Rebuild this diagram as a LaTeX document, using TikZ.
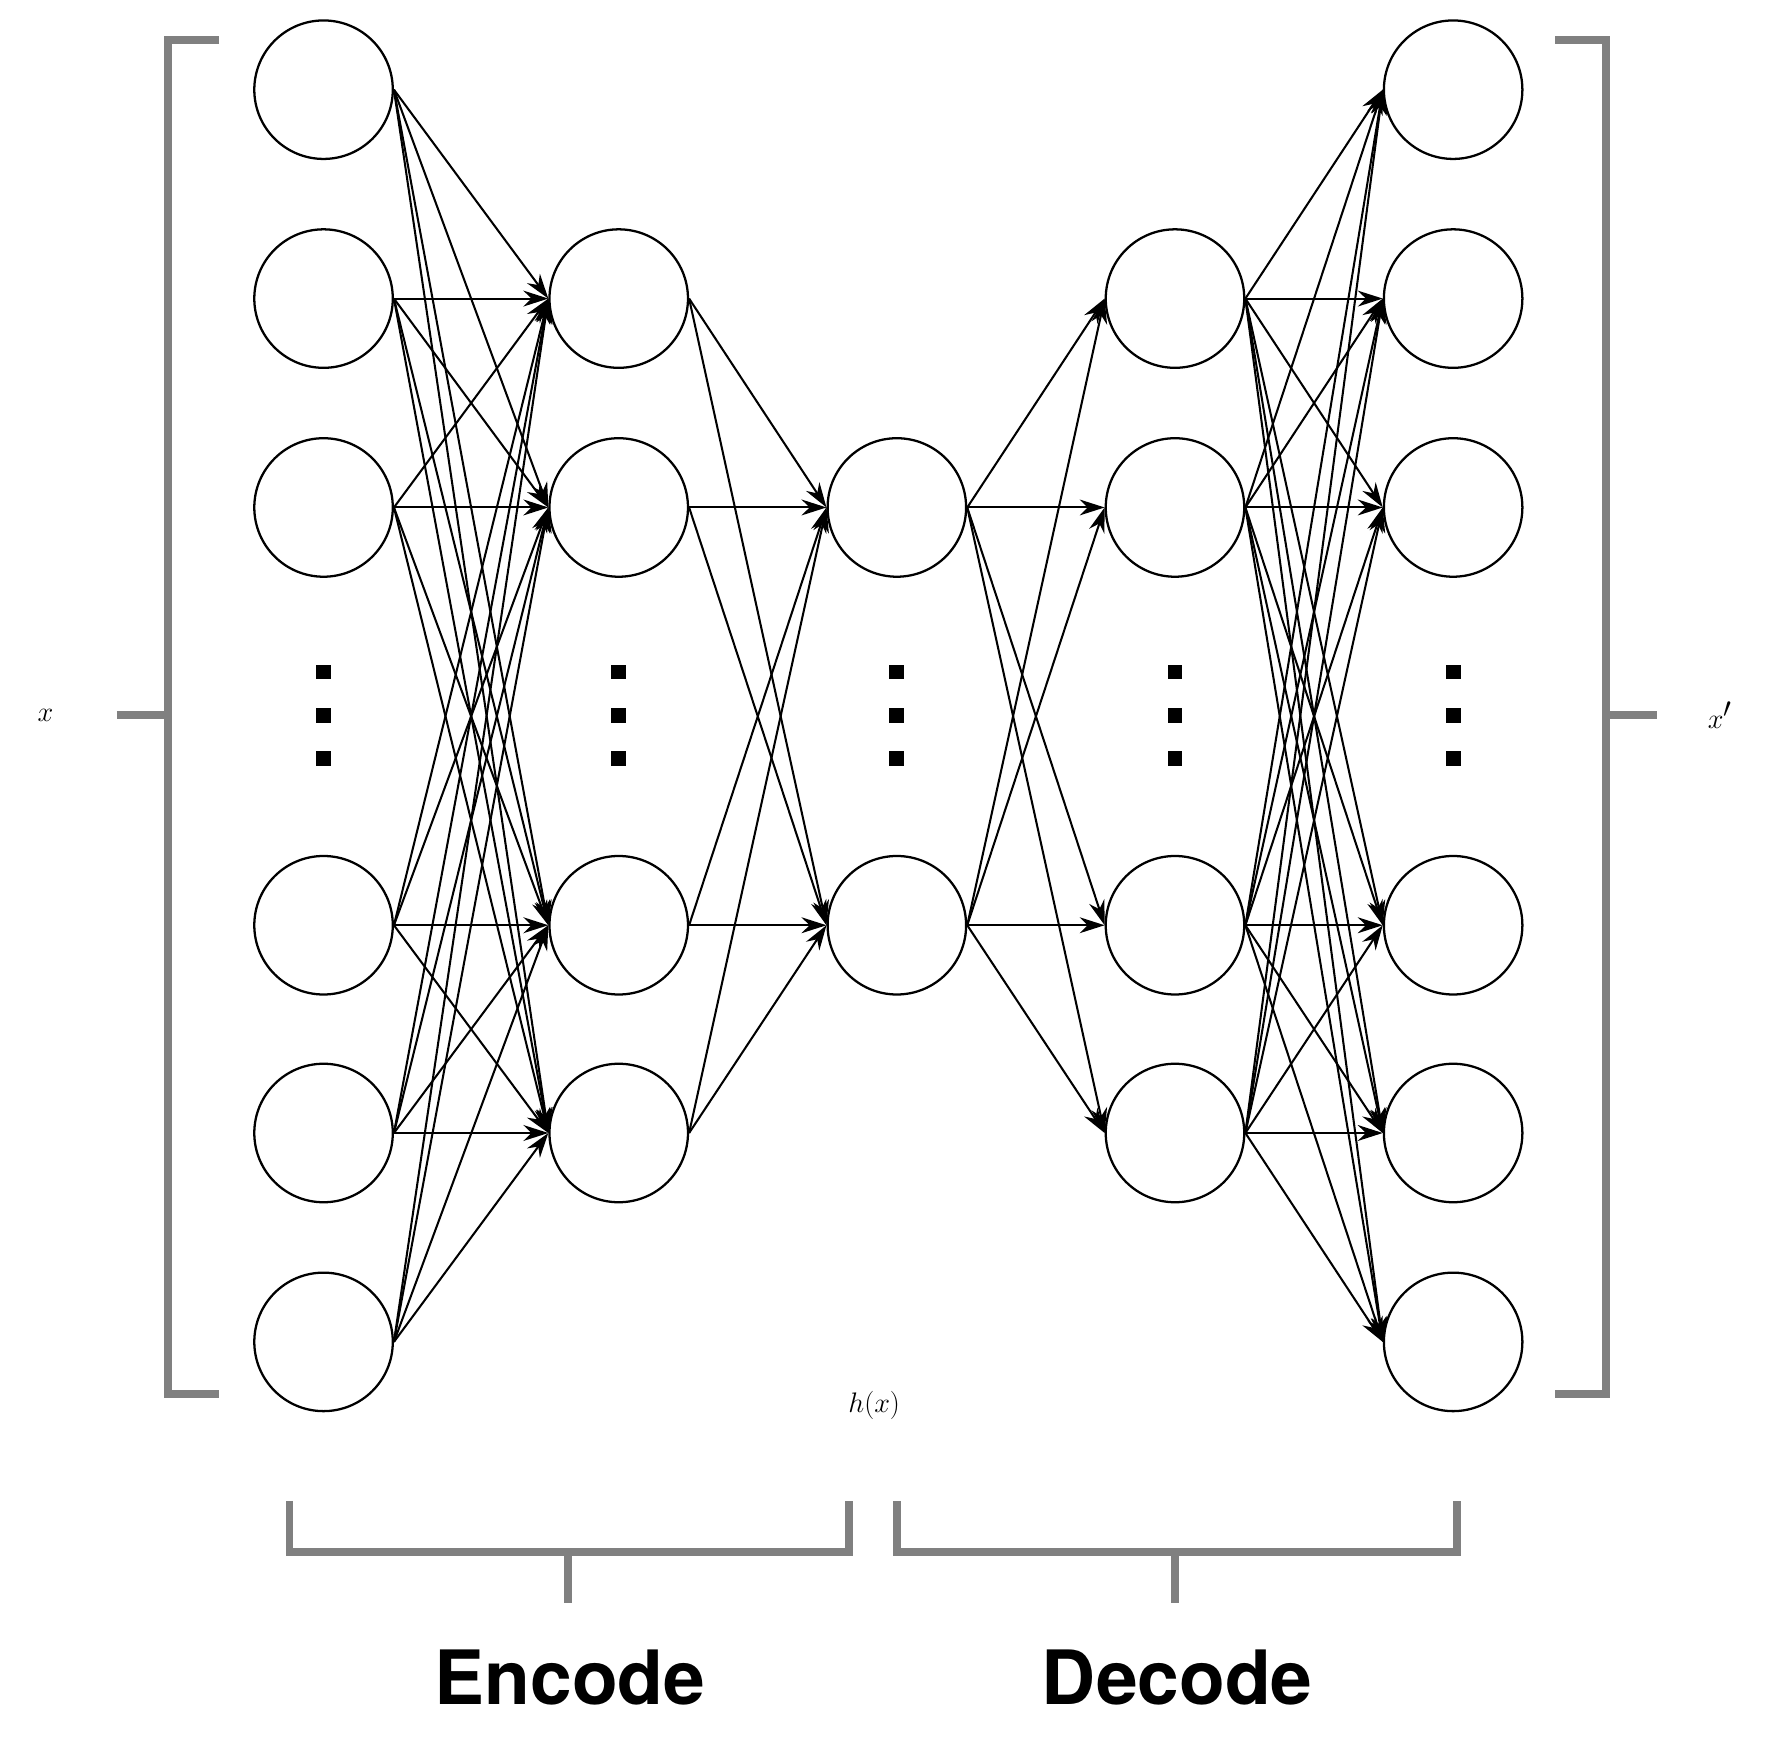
\documentclass[tikz,border=0pt]{standalone}
\usepackage{fontspec}
\newfontfamily\heros{TeX Gyre Heros}
\usetikzlibrary{arrows.meta}
\begin{document}
\begin{tikzpicture}[x=1pt,y=-1pt,
  neuron/.style={circle,draw,line width=2pt,minimum size=122pt,inner sep=0pt},
  conn/.style={line width=1.8pt,-{Stealth[length=22pt,width=14pt]}},
  brk/.style={draw=black!50,line width=7pt},
  dot/.style={fill=black,minimum size=13pt,inner sep=0pt}]
\useasboundingbox (0,0) rectangle (1560,1531);
% layers
\foreach \i/\y in {1/79,2/263,3/447,4/815,5/998,6/1182}{
  \node[neuron] (A\i) at (285,\y) {};
  \node[neuron] (E\i) at (1280,\y) {};}
\foreach \i/\y in {1/263,2/447,3/815,4/998}{
  \node[neuron] (B\i) at (545,\y) {};
  \node[neuron] (D\i) at (1035,\y) {};}
\foreach \i/\y in {1/447,2/815}{\node[neuron] (C\i) at (790,\y) {};}
% dots
\foreach \x in {285,545,790,1035,1280}{
  \foreach \y in {592,630,668}{\node[dot] at (\x,\y) {};}}
% connections
\foreach \i in {1,...,6}{\foreach \j in {1,...,4}{\draw[conn] (A\i.east) -- (B\j.west);}}
\foreach \i in {1,...,4}{\foreach \j in {1,2}{\draw[conn] (B\i.east) -- (C\j.west);}}
\foreach \i in {1,2}{\foreach \j in {1,...,4}{\draw[conn] (C\i.east) -- (D\j.west);}}
\foreach \i in {1,...,4}{\foreach \j in {1,...,6}{\draw[conn] (D\i.east) -- (E\j.west);}}
% side brackets
\draw[brk] (193,35) -- (148,35) -- (148,1228) -- (193,1228);
\draw[brk] (103,630) -- (148,630);
\draw[brk] (1370,35) -- (1415,35) -- (1415,1228) -- (1370,1228);
\draw[brk] (1415,630) -- (1460,630);
\node (x) at (40,630) {\fontsize{80}{90}\selectfont$x$};
\node (xp) at (1515,630) {\fontsize{80}{90}\selectfont$x'$};
\node (h) at (770,1238) {\fontsize{72}{80}\selectfont$h(x)$};
% bottom brackets
\draw[brk] (255,1322) -- (255,1367) -- (748,1367) -- (748,1322);
\draw[brk] (500,1367) -- (500,1412);
\draw[brk] (790,1322) -- (790,1367) -- (1283,1367) -- (1283,1322);
\draw[brk] (1035,1367) -- (1035,1412);
\node (enc) at (502,1478) {\heros\bfseries\fontsize{66}{70}\selectfont Encode};
\node (dec) at (1037,1478) {\heros\bfseries\fontsize{66}{70}\selectfont Decode};
\end{tikzpicture}
\end{document}
